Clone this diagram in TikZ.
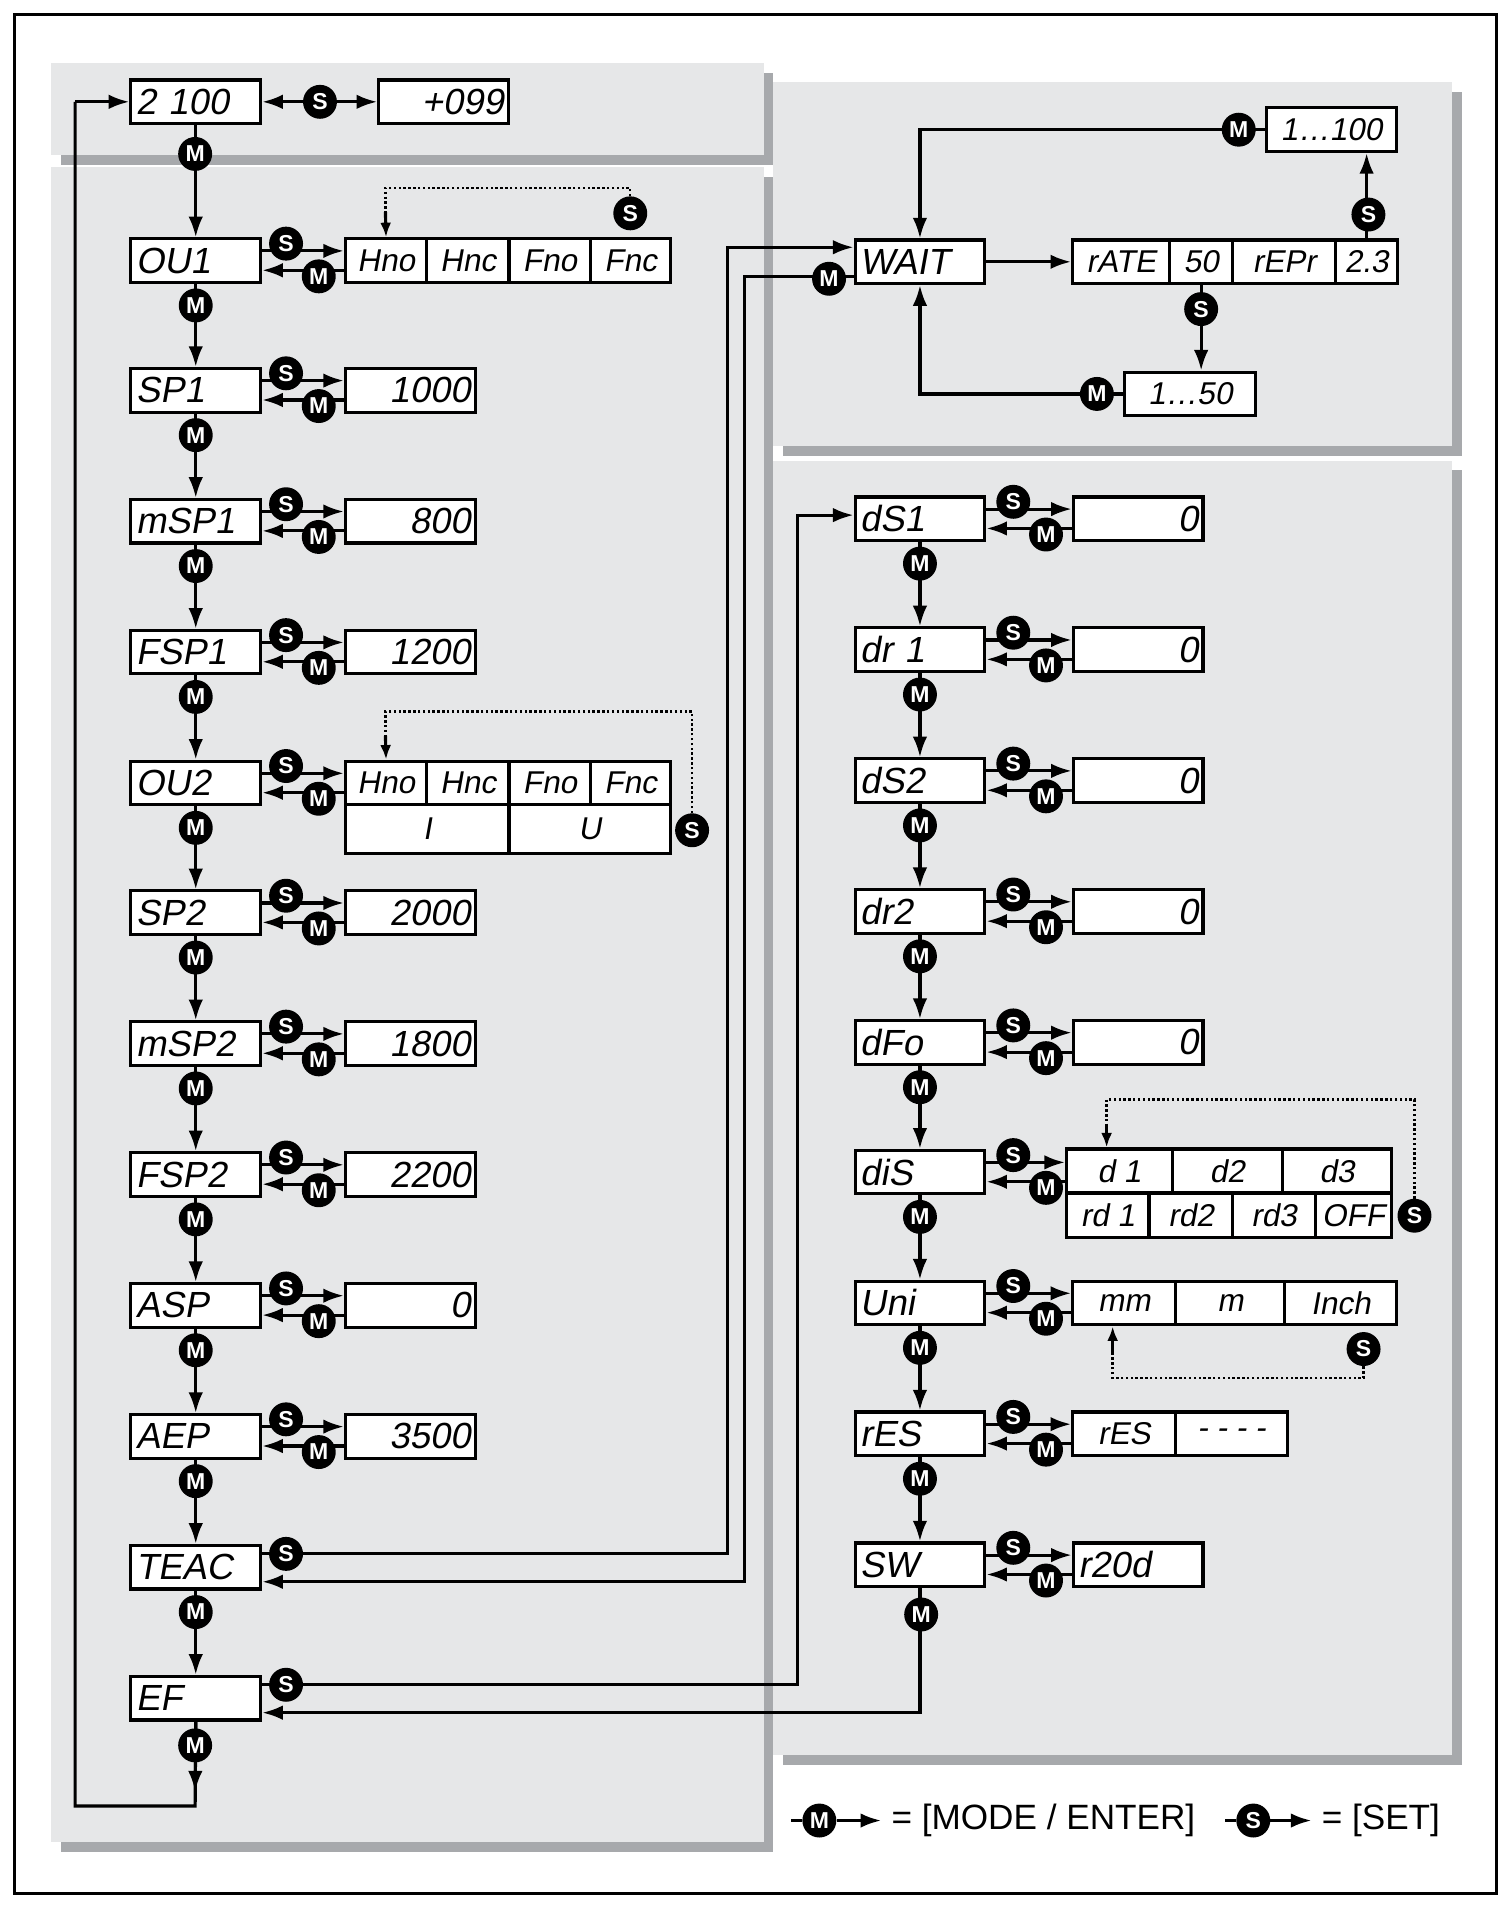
\documentclass[tikz,border=0pt]{standalone}
\usepackage{fontspec}
\setmainfont{Liberation Sans}
\newfontfamily\seg{Liberation Sans}[FakeSlant=0.18]
\usetikzlibrary{arrows.meta}
\definecolor{pan}{HTML}{E6E7E8}
\definecolor{shd}{HTML}{A7A9AC}
\tikzset{
 ln/.style={line width=2.6pt},
 arr/.style={ln,-{Latex[length=17pt,width=12pt]}},
 sarr/.style={ln,-{Latex[length=12pt,width=9pt]}},
 dotl/.style={line width=2pt,dotted},
 pb/.style={draw,line width=2.6pt,fill=white,minimum height=36pt,inner sep=4pt,text width=99pt,font=\seg\fontsize{30}{30}\selectfont},
 pl/.style={pb,align=left},
 pr/.style={pb,align=right},
 ob/.style={draw,line width=2.6pt,fill=white,minimum height=36pt,inner sep=0pt,minimum width=#1,font=\seg\fontsize{26}{26}\selectfont},
 circ/.style={circle,fill=black,text=white,inner sep=0pt,minimum size=28pt,font=\bfseries\fontsize{19}{19}\selectfont},
}
\begin{document}
\begin{tikzpicture}[x=1pt,y=-1pt]
\useasboundingbox (0,0) rectangle (1245,1575);
\fill[white] (0,0) rectangle (1245,1575);
\draw[line width=2.6pt] (12,12) rectangle (1235,1562);
% panels
\foreach \a/\b/\c/\d in {42/52/630/128, 42/138/630/1520, 638/68/1198/368, 638/380/1198/1448}{
  \fill[shd] (\a+8,\b+8) rectangle (\c+8,\d+8);
  \fill[pan] (\a,\b) rectangle (\c,\d);}
% left column
\node[pl] (l0) at (161.5,84) {2 100};
\node[pr] (v0) at (366,84) {+099};
\foreach \n/\y/\t in {1/215/OU1,2/322/SP1,3/430/mSP1,4/538/FSP1,5/646/OU2,6/753/SP2,7/861/mSP2,8/969/FSP2,9/1077/ASP,10/1185/AEP,11/1293/TEAC,12/1401/EF}
  \node[pl] (l\n) at (161.5,\y) {\t};
\foreach \n/\t in {2/1000,3/800,4/1200,6/2000,7/1800,8/2200,9/0,10/3500}
  \node[pr] (v\n) at (338.5,0 |- l\n) {\t};
\node[ob=67pt] (o1a) at (318.5,215) {Hno};
\node[ob=68pt] (o1b) at (386,215) {Hnc};
\node[ob=67pt] (o1c) at (453.5,215) {Fno};
\node[ob=66pt] (o1d) at (520,215) {Fnc};
\node[ob=67pt] (o2a) at (318.5,646) {Hno};
\node[ob=68pt] (o2b) at (386,646) {Hnc};
\node[ob=67pt] (o2c) at (453.5,646) {Fno};
\node[ob=66pt] (o2d) at (520,646) {Fnc};
\node[ob=135pt,minimum height=40pt] (o2e) at (352.5,684) {I};
\node[ob=133pt,minimum height=40pt] (o2f) at (486.5,684) {U};
% right column
\node[pl] (w) at (759,216) {WAIT};
\foreach \n/\y/\t in {1/428/dS1,2/536/dr 1,3/644/dS2,4/752/dr2,5/860/dFo,6/967/diS,7/1075/Uni,8/1183/rES,9/1291/SW}
  \node[pl] (r\n) at (759,\y) {\t};
\foreach \n in {1,...,5} \node[pr] (u\n) at (939,0 |- r\n) {0};
\node[pl] (u9) at (939,1291) {r20d};
\node[ob=87pt] (d1) at (923.5,966) {d 1};
\node[ob=91pt] (d2) at (1012.5,966) {d2};
\node[ob=90pt] (d3) at (1103,966) {d3};
\node[ob=68pt] (d4) at (914,1003) {rd 1};
\node[ob=69pt] (d5) at (982.5,1003) {rd2};
\node[ob=68pt] (d6) at (1051,1003) {rd3};
\node[ob=63pt] (d7) at (1116.5,1003) {OFF};
\node[ob=85pt] (m1) at (927.5,1075) {mm};
\node[ob=90pt] (m2) at (1015,1075) {m};
\node[ob=92pt] (m3) at (1106,1075) {Inch};
\node[ob=85pt] (e1) at (927.5,1183) {rES};
\node[ob=92pt] (e2) at (1016,1183) {- - - -};
\node[ob=80pt] (ra) at (925,216) {rATE};
\node[ob=52pt] (rb) at (991,216) {50};
\node[ob=85pt] (rc) at (1059.5,216) {rEPr};
\node[ob=51pt] (rd) at (1127.5,216) {2.3};
\node[ob=107pt] (b100) at (1098.5,107) {1…100};
\node[ob=108pt] (b50) at (982,325) {1…50};

% connectors left
\draw[{Latex[length=17pt,width=12pt]}-{Latex[length=17pt,width=12pt]},ln] (l0.east) -- (v0.west);
\node[circ] (s0) at (264,84) {S};
\draw[arr] (l0.south) -- (l1.north);
\node[circ] (m0) at (161,127) {M};
\foreach \a/\b in {1/2,2/3,3/4,4/5,5/6,6/7,7/8,8/9,9/10,10/11,11/12}{
  \draw[arr] (l\a.south) -- (l\b.north);
  \node[circ] at ([yshift=-37pt]l\a.center) {M};}
\foreach \n/\x in {2/v2,3/v3,4/v4,6/v6,7/v7,8/v8,9/v9,10/v10,1/o1a,5/o2a}{
  \draw[arr] ([yshift=8pt]l\n.east) -- ([yshift=8pt]l\n.east -| \x.west);
  \draw[arr] ([yshift=-8pt]l\n.east -| \x.west) -- ([yshift=-8pt]l\n.east);
  \node[circ] at ([yshift=14pt]l\n.east -| 236,0) {S};
  \node[circ] at ([yshift=-13pt]l\n.east -| 263,0) {M};}
% loop
\coordinate (lb) at (161,1490);
\coordinate (lc) at (62,84);
\draw[ln] (l12.south) -- (lb) -| (lc);
\draw[arr] (lc) -- (l0.west);
\draw[arr] (l12.south) -- (161,1478);
\node[circ] at (161,1440) {M};
% dotted OU1
\node[circ] (s1) at (520,176) {S};
\draw[dotl] (s1.north) |- (318,155) -- (318,175);
\draw[sarr] (318,175) -- (o1a.north);
% dotted OU2
\node[circ] (s2) at (571,685) {S};
\draw[dotl] (s2.north) |- (318,587) -- (318,607);
\draw[sarr] (318,607) -- (o2a.north);
% TEAC
\draw[arr] ([yshift=11pt]l11.east) -| (600,204) -- ([yshift=12pt]w.west);
\draw[arr] ([yshift=-12pt]w.west) -| (614,1305) -- ([yshift=-12pt]l11.east);
\node[circ] at (236,1282) {S};
\node[circ] at (684,230) {M};
% EF
\draw[arr] ([yshift=11pt]l12.east) -| (658,425) -- ([yshift=3pt]r1.west);
\draw[arr] (r9.south) |- ([yshift=-12pt]l12.east);
\node[circ] at (236,1390) {S};
\node[circ] at (760,1332) {M};
% right connectors
\foreach \a/\b in {1/2,2/3,3/4,4/5,5/6,6/7,7/8,8/9}{
  \draw[arr] (r\a.south) -- (r\b.north);
  \node[circ] at ([yshift=-37pt]r\a.center) {M};}
\foreach \n/\x in {1/u1,2/u2,3/u3,4/u4,5/u5,6/d1,7/m1,8/e1,9/u9}{
  \draw[arr] ([yshift=8pt]r\n.east) -- ([yshift=8pt]r\n.east -| \x.west);
  \draw[arr] ([yshift=-8pt]r\n.east -| \x.west) -- ([yshift=-8pt]r\n.east);
  \node[circ] at ([yshift=14pt]r\n.east -| 836,0) {S};
  \node[circ] at ([yshift=-13pt]r\n.east -| 863,0) {M};}
% diS dotted
\node[circ] (s3) at (1167,1003) {S};
\draw[dotl] (s3.north) |- (913,907) -- (913,927);
\draw[sarr] (913,927) -- (d1.north -| 913,0);
% Uni dotted
\node[circ] (s4) at (1125,1113) {S};
\draw[dotl] (s4.south) |- (918,1137) -- (918,1117);
\draw[sarr] (918,1117) -- (m1.south -| 918,0);
% WAIT group
\draw[arr] (w.east) -- (ra.west);
\draw[arr] (rd.north) -- (rd.north |- b100.south);
\node[circ] at (1129,177) {S};
\draw[arr] (b100.west) -| (w.north);
\node[circ] at (1022,107) {M};
\draw[arr] (rb.south) -- (rb.south |- b50.north);
\node[circ] at (991,255) {S};
\draw[arr] (b50.west) -| (w.south);
\node[circ] at (905,325) {M};
% legend
\node[circ] (lm) at (676,1502) {M};
\coordinate (lm0) at (653,1502);
\draw[ln] (lm0) -- (lm.west);
\coordinate (lm1) at (727,1502);
\draw[arr] (lm.east) -- (lm1);
\node[anchor=west,font=\fontsize{29}{29}\selectfont] (t1) at (732,1502) {= [MODE / ENTER]};
\node[circ] (ls) at (1034,1502) {S};
\coordinate (ls0) at (1011,1502);
\draw[ln] (ls0) -- (ls.west);
\coordinate (ls1) at (1082,1502);
\draw[arr] (ls.east) -- (ls1);
\node[anchor=west,font=\fontsize{29}{29}\selectfont] (t2) at (1087,1502) {= [SET]};
\end{tikzpicture}
\end{document}
